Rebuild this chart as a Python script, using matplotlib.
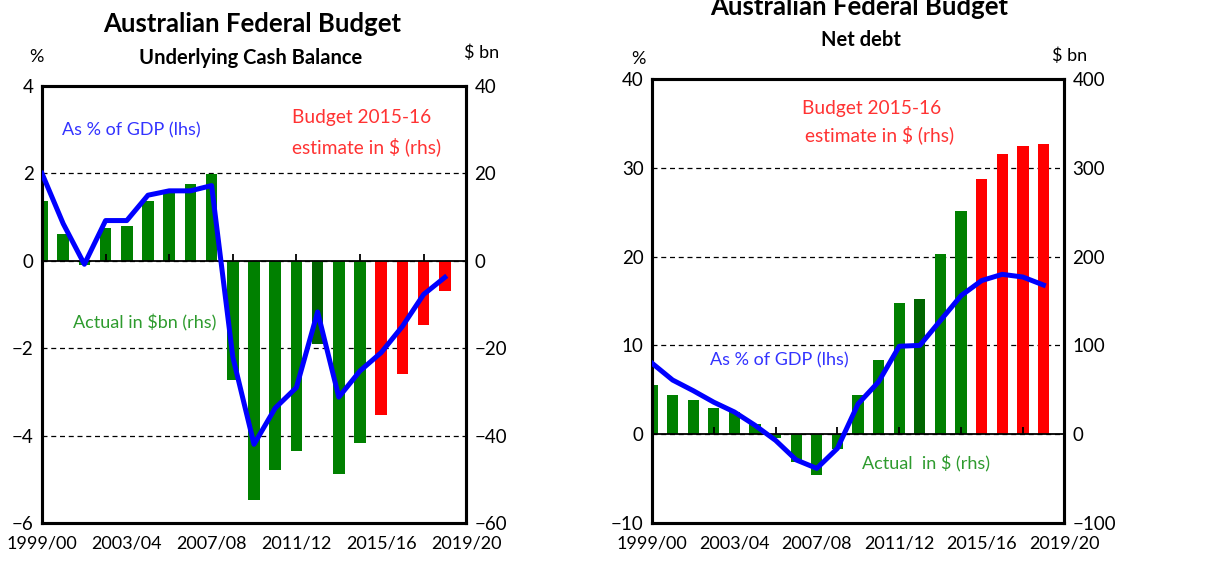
import matplotlib
matplotlib.use("Agg")
import matplotlib.pyplot as plt
import numpy as np

plt.rcParams["font.family"] = ["Lato", "DejaVu Sans"]

# fiscal years 1999/00 .. 2018/19 (bars + line), axis runs to 2019/20
years = ["1999/00", "2000/01", "2001/02", "2002/03", "2003/04", "2004/05", "2005/06",
         "2006/07", "2007/08", "2008/09", "2009/10", "2010/11", "2011/12", "2012/13",
         "2013/14", "2014/15", "2015/16", "2016/17", "2017/18", "2018/19"]
xlabels = ["1999/00", "2003/04", "2007/08", "2011/12", "2015/16", "2019/20"]
n_actual = 16  # up to 2014/15 actual, rest budget estimates
dark_year = "2012/13"

# underlying cash balance
ucb_bn = [13.7, 6.1, -1.0, 7.6, 8.0, 13.7, 15.8, 17.5, 19.8, -27.3, -54.8, -47.8,
          -43.6, -19.0, -48.9, -41.6, -35.4, -26.0, -14.6, -7.0]
ucb_pct = [2.0, 0.85, -0.08, 0.92, 0.92, 1.5, 1.6, 1.6, 1.72, -2.2, -4.2, -3.37,
           -2.9, -1.17, -3.12, -2.52, -2.1, -1.5, -0.77, -0.38]

# net debt
debt_bn = [55.8, 43.8, 39.0, 30.0, 25.0, 12.0, -3.8, -31.0, -45.5, -17.0, 43.8, 84.0,
           147.6, 152.4, 202.7, 251.0, 287.0, 315.0, 324.7, 326.6]
debt_pct = [8.0, 6.1, 4.9, 3.6, 2.5, 1.0, -0.7, -2.9, -3.85, -1.6, 3.4, 5.9,
            9.9, 10.0, 12.8, 15.6, 17.3, 18.0, 17.7, 16.8]

GREEN = "#008000"
DARK_GREEN = "#006400"
RED = "#FF0000"
BLUE = "#0000FF"
TXT_BLUE = "#3333FF"
TXT_GREEN = "#2E9B2E"
TXT_RED = "#FF3333"


def bar_colors():
    cols = []
    for i, y in enumerate(years):
        if i >= n_actual:
            cols.append(RED)
        elif y == dark_year:
            cols.append(DARK_GREEN)
        else:
            cols.append(GREEN)
    return cols


def panel(rect, bn, pct, lhs_lim, rhs_lim, lhs_step, rhs_step):
    ax = fig.add_axes(rect)
    ax2 = ax.twinx()
    x = np.arange(len(years))

    ax2.bar(x, bn, width=0.55, color=bar_colors(), zorder=2)
    ax2.set_ylim(*rhs_lim)
    ax2.set_yticks(np.arange(rhs_lim[0], rhs_lim[1] + 1, rhs_step))
    ax2.grid(axis="y", ls=(0, (4, 3)), color="black", lw=0.9, zorder=0)
    ax2.set_axisbelow(True)

    ax.set_zorder(ax2.get_zorder() + 1)
    ax.patch.set_visible(False)
    ax.plot(x, pct, color=BLUE, lw=3.6, solid_joinstyle="round", zorder=4)
    ax.axhline(0, color="black", lw=1.3, zorder=3)
    tick_x = np.arange(3, len(years), 3)
    ax.plot(tick_x, np.zeros(len(tick_x)), ls="none", marker=2, ms=5,
            mew=1.3, color="black", zorder=3)
    ax.set_ylim(*lhs_lim)
    ax.set_yticks(np.arange(lhs_lim[0], lhs_lim[1] + 1, lhs_step))
    ax.set_xlim(0, 20)
    ax.set_xticks(np.arange(0, 21, 4))
    ax.set_xticklabels(xlabels)

    for a in (ax, ax2):
        a.tick_params(length=0, labelsize=13.5, pad=6)
        for s in a.spines.values():
            s.set_linewidth(2.2)
    ax.tick_params(axis="x", pad=9, labelsize=13)
    return ax, ax2


fig = plt.figure(figsize=(12.13, 5.70), dpi=100)

# left: underlying cash balance
axL, axL2 = panel([0.0346, 0.0825, 0.3496, 0.7667], ucb_bn, ucb_pct,
                  (-6, 4), (-60, 40), 2, 20)
fig.text(0.208, 0.958, "Australian Federal Budget", ha="center", va="center",
         fontsize=18.5, fontweight="bold")
fig.text(0.207, 0.899, "Underlying Cash Balance", ha="center", va="center",
         fontsize=14.5, fontweight="bold")
fig.text(0.030, 0.900, "%", ha="center", va="center", fontsize=13)
fig.text(0.397, 0.907, "$ bn", ha="center", va="center", fontsize=13)
fig.text(0.051, 0.772, "As % of GDP (lhs)", color=TXT_BLUE, va="center", fontsize=13)
fig.text(0.241, 0.793, "Budget 2015-16", color=TXT_RED, va="center", fontsize=13.8)
fig.text(0.241, 0.742, "estimate in $ (rhs)", color=TXT_RED, va="center", fontsize=13.8)
fig.text(0.060, 0.433, "Actual in $bn (rhs)", color=TXT_GREEN, va="center", fontsize=13)

# right: net debt
axR, axR2 = panel([0.5375, 0.0825, 0.3397, 0.7789], debt_bn, debt_pct,
                  (-10, 40), (-100, 400), 10, 100)
fig.text(0.708, 0.988, "Australian Federal Budget", ha="center", va="center",
         fontsize=18.5, fontweight="bold")
fig.text(0.710, 0.929, "Net debt", ha="center", va="center",
         fontsize=14.5, fontweight="bold")
fig.text(0.526, 0.896, "%", ha="center", va="center", fontsize=13)
fig.text(0.882, 0.902, "$ bn", ha="center", va="center", fontsize=13)
fig.text(0.661, 0.810, "Budget 2015-16", color=TXT_RED, va="center", fontsize=13.8)
fig.text(0.664, 0.763, "estimate in $ (rhs)", color=TXT_RED, va="center", fontsize=13.8)
fig.text(0.585, 0.367, "As % of GDP (lhs)", color=TXT_BLUE, va="center", fontsize=13)
fig.text(0.711, 0.186, "Actual  in $ (rhs)", color=TXT_GREEN, va="center", fontsize=13)

fig.savefig("out.png", dpi=100)
